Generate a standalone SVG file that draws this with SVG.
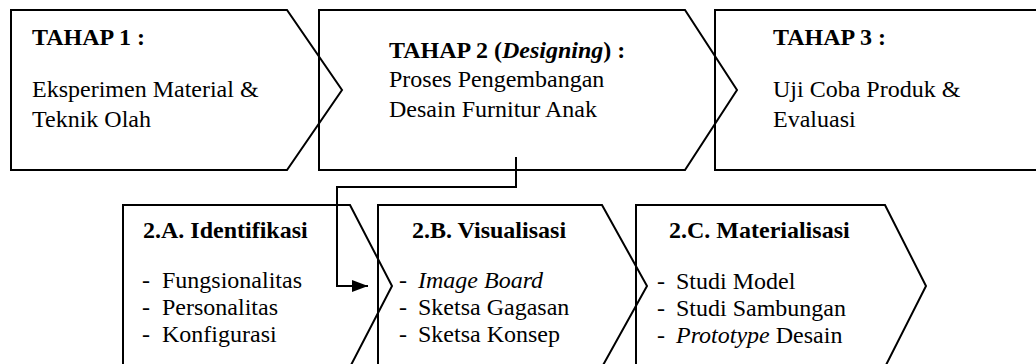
<svg xmlns="http://www.w3.org/2000/svg" width="1036" height="364" viewBox="0 0 1036 364">
<style>
.box{fill:none;stroke:#000;stroke-width:2;stroke-linejoin:miter}
text{font-family:'Liberation Serif','Times New Roman',serif;font-size:24px;fill:#000}
.b{font-weight:bold}
.i{font-style:italic}
.con{fill:none;stroke:#000;stroke-width:2}
</style>
<defs>
<marker id="arr" markerWidth="16" markerHeight="12" refX="16" refY="6" orient="auto" markerUnits="userSpaceOnUse">
<path d="M0,0 L16,6 L0,12 Z" fill="#000"/>
</marker>
</defs>
<rect width="1036" height="364" fill="#fff"/>
<g id="tahap1">
<path class="box" d="M11,10 H287 L342,90 L287,170 H11 Z"/>
<text class="b" x="32" y="45">TAHAP 1 :</text>
<text x="32" y="97">Eksperimen Material &amp;</text>
<text x="32" y="127">Teknik Olah</text>
</g>
<g id="tahap2">
<path class="box" d="M319,10 H685 L737,90 L685,170 H319 Z"/>
<text class="b" x="389" y="58">TAHAP 2 (<tspan class="i">Designing</tspan>) :</text>
<text x="389" y="87">Proses Pengembangan</text>
<text x="389" y="117">Desain Furnitur Anak</text>
</g>
<g id="tahap3">
<path class="box" d="M1040,10 H715 V170 H1040"/>
<text class="b" x="773" y="45">TAHAP 3 :</text>
<text x="773" y="97">Uji Coba Produk &amp;</text>
<text x="773" y="127">Evaluasi</text>
</g>
<g id="identifikasi">
<path class="box" d="M123,205 H350 L392,286 L350,367 H123 Z"/>
<text class="b" x="143" y="238">2.A. Identifikasi</text>
<text x="142" y="288">-</text><text x="162" y="288">Fungsionalitas</text>
<text x="142" y="315">-</text><text x="162" y="315">Personalitas</text>
<text x="142" y="342">-</text><text x="162" y="342">Konfigurasi</text>
</g>
<g id="visualisasi">
<path class="box" d="M378,205 H602 L647,286 L602,367 H378 Z"/>
<text class="b" x="412" y="238">2.B. Visualisasi</text>
<text x="399" y="288">-</text><text class="i" x="418" y="288">Image Board</text>
<text x="399" y="315">-</text><text x="418" y="315">Sketsa Gagasan</text>
<text x="399" y="342">-</text><text x="418" y="342">Sketsa Konsep</text>
</g>
<g id="materialisasi">
<path class="box" d="M636,205 H885 L926,286 L885,367 H636 Z"/>
<text class="b" x="669" y="238">2.C. Materialisasi</text>
<text x="657" y="289">-</text><text x="676" y="289">Studi Model</text>
<text x="657" y="316">-</text><text x="676" y="316">Studi Sambungan</text>
<text x="657" y="343">-</text><text x="676" y="343"><tspan class="i">Prototype</tspan> Desain</text>
</g>
<g id="connectors">
<path class="con" d="M516,157 V187 H337 V286 H368" marker-end="url(#arr)"/>
</g>
</svg>
